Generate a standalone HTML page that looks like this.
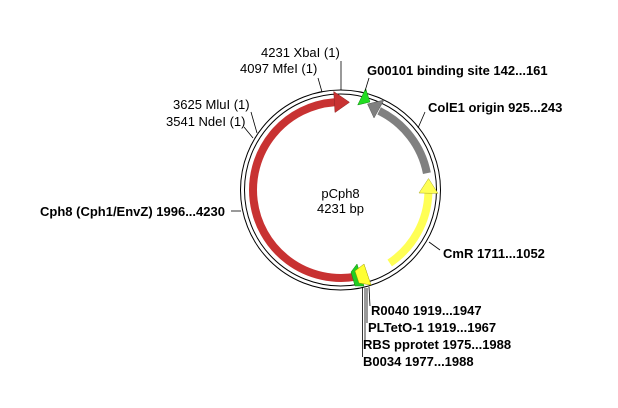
<!DOCTYPE html>
<html><head><style>
html,body{margin:0;padding:0;background:#fff;}
svg{display:block;}
text{font-family:"Liberation Sans",Arial,sans-serif;font-size:13px;fill:#000;}
.b{font-weight:bold;}
</style></head><body>
<svg width="618" height="408" viewBox="0 0 618 408" xmlns="http://www.w3.org/2000/svg">
<circle cx="340.5" cy="190" r="100" fill="none" stroke="#000" stroke-width="1"/>
<circle cx="340.5" cy="190" r="96" fill="none" stroke="#000" stroke-width="1"/>
<!-- red Cph8 -->
<path d="M355.8,276.7 A88,88 0 1 1 334.4,102.2" fill="none" stroke="#c83232" stroke-width="8"/>
<polygon points="335,112.5 333.7,91.5 349.5,102.3" fill="#c83232" stroke="#8a2020" stroke-width="0.5"/>
<!-- gray ColE1 -->
<path d="M426.9,173.2 A88,88 0 0 0 379.1,110.9" fill="none" stroke="#808080" stroke-width="8"/>
<polygon points="374,118 384,100 367.5,104" fill="#808080" stroke="#555" stroke-width="0.5"/>
<!-- green G00101 -->
<polygon points="357.7,105 365.7,88.5 370,102" fill="#22dd22" stroke="#118811" stroke-width="0.5"/>
<!-- yellow CmR -->
<path d="M389.7,263 A88,88 0 0 0 428.4,193.1" fill="none" stroke="#ffff55" stroke-width="8"/>
<polygon points="419,193 438,193.4 428.5,178.5" fill="#ffff55" stroke="#aaaa22" stroke-width="0.5"/>
<!-- bottom small features -->
<polygon points="351,272 357,264 364,286 355,286" fill="#22cc22" stroke="#118811" stroke-width="0.5"/>
<polygon points="355,271 364,264 371,285 359,283" fill="#ffff33" stroke="#999900" stroke-width="0.5"/>
<!-- leader lines -->
<g stroke="#000" stroke-width="0.8" fill="none">
<line x1="341" y1="61" x2="341" y2="90"/>
<path d="M318,78 L322,92"/>
<path d="M251,112 L257,133"/>
<path d="M244,127 L253,138"/>
<path d="M369,78 L365,91"/>
<path d="M425,112 L418,128"/>
<path d="M231,211 L241,211"/>
<path d="M440,250 L429,242"/>
<path d="M362.5,287 L362.5,357"/>
<path d="M365,288 L365,341"/>
<path d="M367,288 L367,323"/>
<path d="M369,287 L370,306"/>
</g>
<!-- labels -->
<text x="261" y="57">4231 XbaI (1)</text>
<text x="240" y="73">4097 MfeI (1)</text>
<text x="173" y="109">3625 MluI (1)</text>
<text x="166" y="126">3541 NdeI (1)</text>
<text x="367" y="75" class="b">G00101 binding site 142...161</text>
<text x="428" y="112" class="b">ColE1 origin 925...243</text>
<text x="40" y="216" class="b">Cph8 (Cph1/EnvZ) 1996...4230</text>
<text x="443" y="258" class="b">CmR 1711...1052</text>
<text x="371" y="315" class="b">R0040 1919...1947</text>
<text x="368" y="332" class="b">PLTetO-1 1919...1967</text>
<text x="363" y="349" class="b">RBS pprotet 1975...1988</text>
<text x="363" y="366" class="b">B0034 1977...1988</text>
<text x="340.5" y="198" text-anchor="middle">pCph8</text>
<text x="340.5" y="213" text-anchor="middle">4231 bp</text>
</svg>
</body></html>
